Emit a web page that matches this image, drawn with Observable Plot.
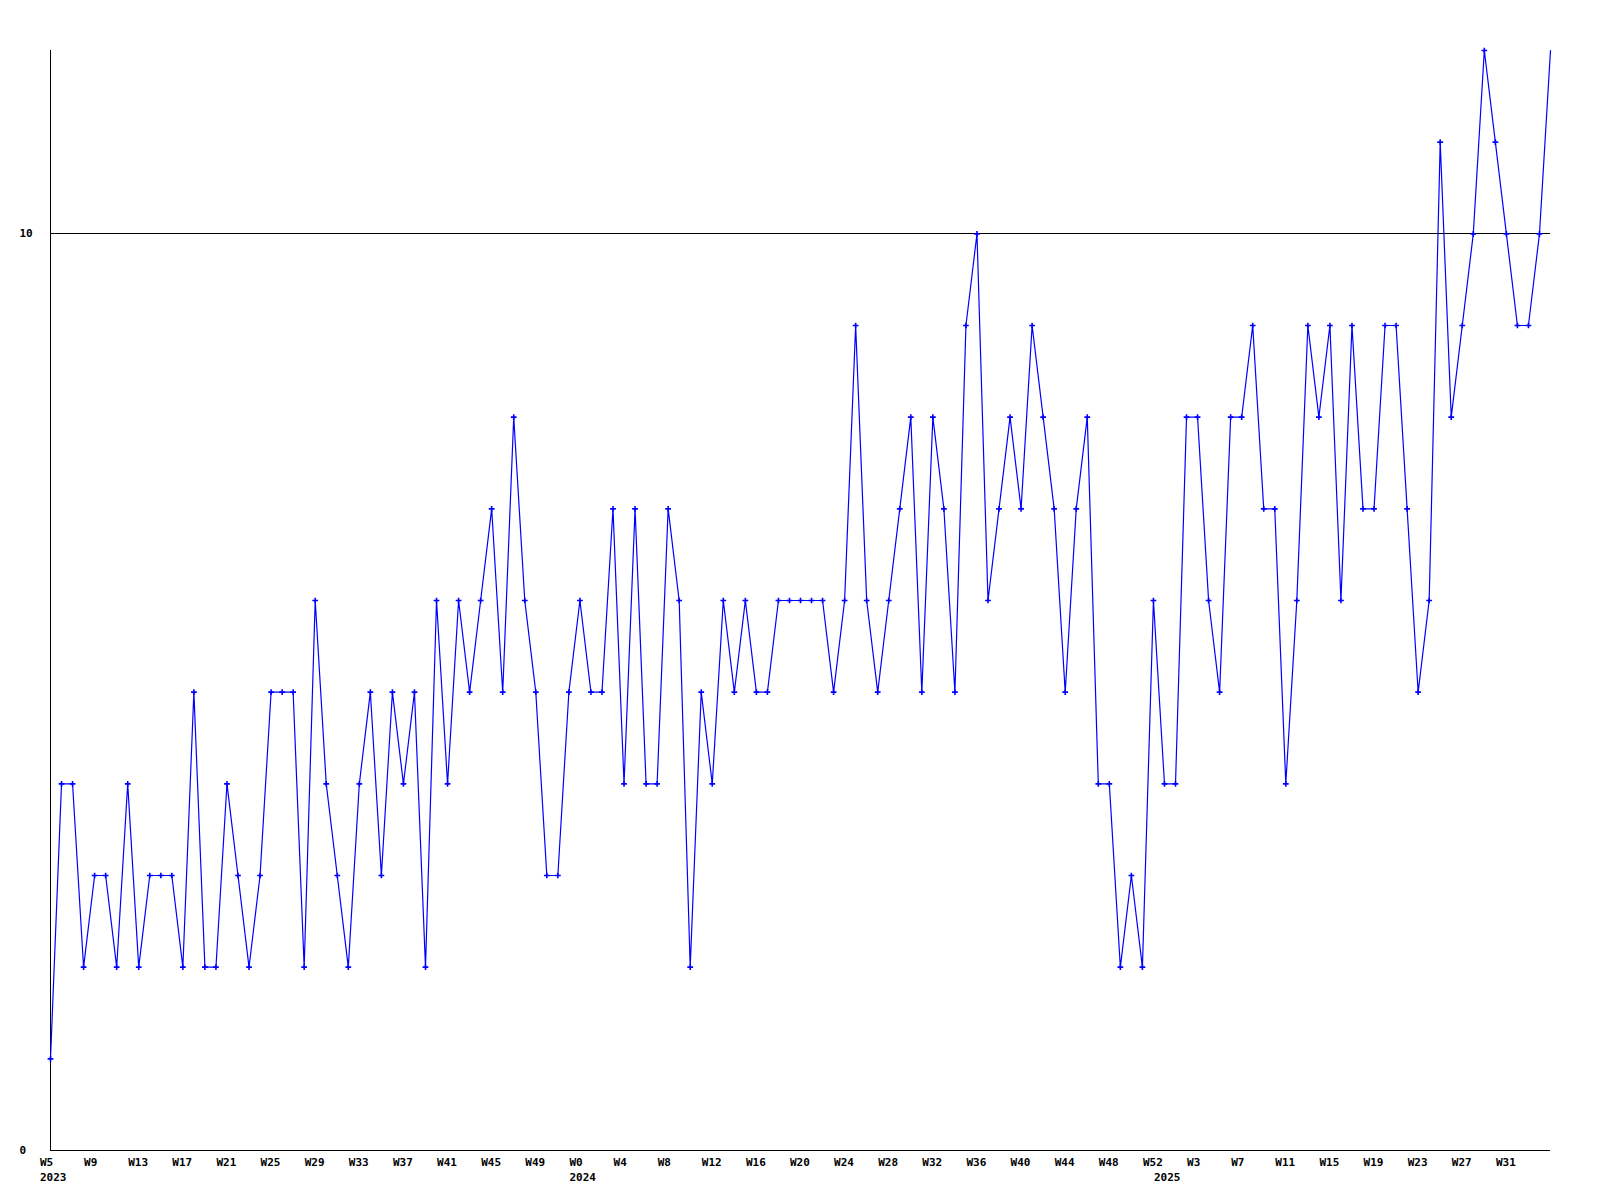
<!DOCTYPE html>
<html>
<head>
<meta charset="utf-8">
<script src="https://cdn.jsdelivr.net/npm/d3@7"></script>
<script src="https://cdn.jsdelivr.net/npm/@observablehq/plot@0.6"></script>
<style>
  html, body { margin: 0; padding: 0; background: #ffffff; }
  #chart { width: 1600px; height: 1200px; }
</style>
</head>
<body>
<div id="chart"></div>
<script>
// Weekly values, one array per year
const years = ["2023", "2024", "2025"];
const firstWeek = [5, 0, 0];
const values2023 = [1,4,4,2,3,3,2,4,2,3, 3,3,2,5,2,2,4,3,2,3, 5,5,5,2,6,4,3,2,4,5, 3,5,4,5,2,6,4,6,5,6, 7,5,8,6,5,3,3,5];
const values2024 = [6,5,5,7,4,7,4,4,7,6, 2,5,4,6,5,6,5,5,6,6, 6,6,6,5,6,9,6,5,6,7, 8,5,8,7,5,9,10,6,7,8, 7,9,8,7,5,7,8,4,4,2, 3,2,6];
const values2025 = [4,4,8,8,6,5,8,8,9,7, 7,4,6,9,8,9,6,9,7,7, 9,9,7,5,6,11,8,9,10,12, 11,10,9,9,10,12];
const yTickValues = [0, 10];
const gridValues = [10];

// Build the table
const seriesByYear = [values2023, values2024, values2025];
const data = [];
const yearStarts = [];
seriesByYear.forEach((vals, y) => {
  yearStarts.push({i: data.length, label: years[y]});
  vals.forEach((v, j) => {
    data.push({i: data.length, week: firstWeek[y] + j, year: years[y], value: v});
  });
});
const lastIdx = data.length - 1;
const tickIdx = data.filter(d => d.i % 4 === 0 && d.i < lastIdx).map(d => d.i);
const weekLabel = i => "W" + data[i].week;

const font = "DejaVu Sans Mono";
const chart = Plot.plot({
  width: 1600,
  height: 1200,
  marginLeft: 50,
  marginRight: 50,
  marginTop: 50,
  marginBottom: 50,
  style: {fontFamily: font, fontSize: "11px", fontWeight: "bold", background: "#ffffff", color: "#000000"},
  x: {domain: [0, lastIdx]},
  y: {domain: [0, 12]},
  marks: [
    Plot.ruleY(gridValues, {stroke: "#000000", strokeWidth: 1, shapeRendering: "crispEdges"}),
    Plot.ruleY([0], {stroke: "#000000", strokeWidth: 1, shapeRendering: "crispEdges"}),
    Plot.ruleX([0], {stroke: "#000000", strokeWidth: 1, shapeRendering: "crispEdges"}),
    Plot.line(data, {x: "i", y: "value", stroke: "#0000ff", strokeWidth: 1.2}),
    Plot.dot(data.filter(d => d.i < lastIdx), {x: "i", y: "value", symbol: "plus", r: 2, stroke: "#0000ff", strokeWidth: 1.6}),
    Plot.axisY({
      ticks: yTickValues, tickSize: 0, tickPadding: 0, textAnchor: "start", dx: -31,
      tickFormat: d => String(d), fontSize: 11, fontWeight: "bold", fill: "#000000", label: null
    }),
    Plot.axisX({
      ticks: tickIdx, tickSize: 0, tickPadding: 8, textAnchor: "start", dx: -10.5,
      tickFormat: weekLabel, fontSize: 11, fontWeight: "bold", fill: "#000000", label: null
    }),
    Plot.axisX({
      ticks: yearStarts.map(d => d.i), tickSize: 0, tickPadding: 23, textAnchor: "start", dx: -10.5,
      tickFormat: i => yearStarts.find(d => d.i === i).label, fontSize: 11, fontWeight: "bold", fill: "#000000", label: null
    })
  ]
});
document.getElementById("chart").appendChild(chart);
</script>
</body>
</html>
